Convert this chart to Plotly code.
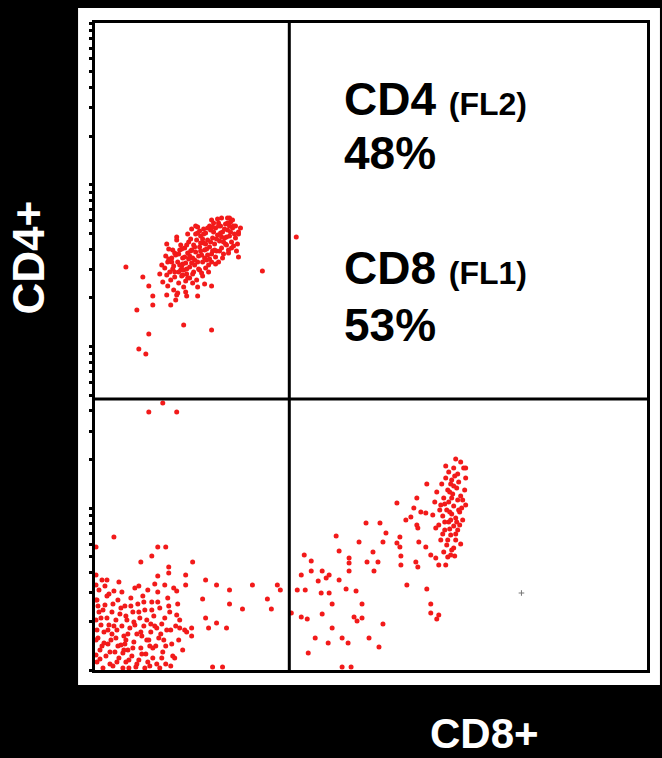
import math
import plotly.graph_objects as go

# Flow cytometry dot plot: FL1 (CD8) on x, FL2 (CD4) on y, channel units (x, y)
# Upper-left population (CD4+ CD8-)
ul_events = [
    (31, 403), (168, 399), (42, 360), (54, 336), (89, 345), (117, 340), (44, 321), (51, 316), (58, 365),
    (76, 365), (58, 374), (54, 384), (48, 393), (82, 433), (103, 443), (124, 447), (135, 452), (144, 438),
    (144, 413), (117, 384), (92, 374), (103, 374), (72, 375), (82, 375),
    (70, 402), (73, 408), (75, 398), (77, 412), (79, 404), (81, 415), (83, 408), (85, 420), (86, 400),
    (88, 412), (90, 422), (91, 407), (93, 417), (94, 428), (95, 403), (97, 420), (98, 412), (99, 425),
    (101, 418), (102, 430), (103, 408), (105, 423), (106, 434), (107, 415), (109, 427), (110, 420),
    (111, 437), (112, 410), (113, 430), (115, 423), (116, 440), (117, 416), (118, 432), (120, 426),
    (121, 442), (122, 419), (123, 435), (125, 429), (126, 444), (127, 422), (128, 438), (130, 432),
    (131, 446), (132, 425), (133, 440), (135, 434), (136, 448), (137, 428), (138, 442), (140, 436),
    (76, 390), (80, 393), (84, 387), (87, 394), (91, 389), (89, 383), (95, 392), (99, 398), (102, 390),
    (105, 400), (108, 394), (111, 402), (114, 398), (93, 436), (97, 441), (101, 444), (105, 439),
    (71, 414), (67, 405), (65, 396), (68, 388), (73, 384), (79, 380), (83, 377), (89, 400), (94, 411),
    (100, 405), (104, 414), (108, 408), (113, 415), (117, 408), (121, 413), (124, 408), (129, 416),
    (134, 420), (139, 424), (143, 426), (119, 447), (127, 452), (133, 452), (141, 444), (115, 444),
    (109, 441), (86, 425), (82, 430), (78, 420), (74, 421), (92, 396), (87, 404), (98, 387), (103, 383),
    (81, 370), (91, 378), (110, 386), (72, 426),
    (72, 395), (74, 411), (78, 401), (80, 417), (84, 398), (84, 416), (87, 421), (88, 406), (92, 401),
    (92, 425), (95, 414), (96, 431), (98, 396), (100, 423), (100, 410), (103, 437), (104, 401), (106, 419),
    (108, 431), (110, 412), (111, 426), (113, 442), (114, 405), (116, 428), (118, 419), (119, 438),
    (121, 406), (122, 431), (124, 444), (125, 419), (127, 433), (128, 412), (130, 441), (131, 426),
    (133, 447), (134, 417), (136, 438), (137, 422), (139, 444), (141, 432), (142, 419), (144, 436),
    (146, 442), (96, 419), (90, 413), (85, 405), (80, 398), (77, 408), (106, 427), (112, 421), (118, 443),
    (126, 437), (132, 433), (109, 436), (101, 436), (97, 407), (93, 392), (88, 395), (107, 397),
    (115, 411), (120, 420), (129, 428), (135, 444), (138, 450), (123, 451), (117, 450),
]

# Upper-right (double positive) events
ur_events = [(202, 433)]

# Lower-left population (double negative)
ll_events = [
    (54, 258), (82, 258), (68, 267), (19, 133), (63, 123), (71, 123), (57, 114), (46, 108), (98, 108),
    (74, 103), (74, 97), (63, 94), (91, 95), (111, 90), (12, 90), (122, 85), (158, 85), (183, 85),
    (186, 80), (135, 80), (91, 85), (82, 79), (19, 79), (108, 71), (135, 66), (148, 61), (173, 71),
    (177, 61), (111, 52), (122, 47), (132, 42), (114, 42), (85, 42), (92, 38), (97, 42), (118, 3),
    (128, 3), (1, 123),
    (2, 70), (4, 58), (6, 45), (3, 32), (5, 20), (2, 8), (8, 2), (10, 65), (12, 52), (9, 38), (13, 26),
    (11, 14), (15, 6), (17, 58), (19, 44), (16, 30), (20, 18), (18, 4), (23, 70), (25, 56), (22, 40),
    (26, 25), (24, 12), (28, 2), (30, 64), (32, 50), (29, 34), (33, 20), (31, 8), (36, 72), (38, 58),
    (35, 42), (39, 28), (37, 14), (41, 3), (43, 66), (45, 52), (42, 36), (46, 22), (44, 10), (48, 74),
    (50, 60), (49, 44), (52, 30), (51, 16), (55, 4), (57, 68), (59, 54), (56, 38), (61, 24), (58, 12),
    (63, 78), (65, 62), (67, 46), (64, 32), (68, 18), (71, 6), (73, 72), (75, 58), (72, 40), (77, 26),
    (80, 12), (83, 66), (85, 50), (79, 82), (70, 85), (53, 80), (40, 82), (27, 78), (14, 76), (1, 85),
    (1, 95), (7, 90), (4, 80), (17, 36), (23, 24), (31, 30), (39, 48), (47, 34), (55, 24), (62, 42),
    (69, 30), (7, 24), (13, 40), (21, 50), (29, 20), (34, 2), (50, 2), (65, 2), (76, 4), (90, 40),
    (97, 34), (81, 44), (1, 15), (1, 30), (1, 50), (1, 70),
    (3, 64), (6, 52), (9, 27), (5, 11), (12, 74), (14, 45), (15, 18), (18, 66), (21, 32), (22, 8),
    (26, 62), (27, 44), (28, 17), (31, 54), (33, 36), (34, 10), (36, 64), (38, 22), (40, 45), (42, 6),
    (44, 58), (46, 38), (47, 16), (49, 68), (52, 50), (53, 8), (54, 30), (57, 60), (58, 22), (60, 44),
    (62, 6), (63, 68), (66, 36), (67, 12), (70, 52), (71, 24), (74, 64), (76, 40), (78, 14), (82, 55),
    (84, 30), (88, 20), (10, 84), (24, 88), (44, 84), (60, 86), (2, 40), (8, 60), (30, 26), (56, 46),
]

# Lower-right population (CD8+ CD4-)
lr_events = [
    (362, 211), (372, 202), (333, 186), (303, 167), (323, 172),
    (352, 192), (357, 186), (361, 194), (365, 188), (354, 180), (359, 176), (363, 182), (367, 174),
    (350, 172), (355, 168), (360, 164), (364, 170), (368, 162), (353, 160), (358, 156), (362, 152),
    (366, 158), (349, 154), (355, 148), (360, 144), (364, 140), (351, 140), (357, 135), (362, 130),
    (367, 126), (353, 125), (358, 120), (347, 130), (345, 145), (347, 165), (343, 178), (371, 180),
    (372, 192), (370, 202), (367, 208), (360, 202), (355, 198), (348, 186), (341, 168), (339, 155),
    (342, 142), (350, 118), (354, 113), (361, 114), (369, 150), (372, 165), (356, 141), (351, 148),
    (363, 148), (358, 172),
    (356, 178), (360, 184), (351, 166), (365, 160), (357, 150), (349, 136), (362, 136), (354, 130),
    (366, 145), (358, 190), (352, 204), (364, 196), (346, 160), (369, 170), (356, 158), (360, 122),
    (306, 133), (306, 123), (303, 127), (325, 128), (332, 123), (337, 115), (342, 112), (345, 105),
    (352, 105), (357, 115), (312, 150), (317, 153), (323, 145), (324, 142), (320, 162), (327, 158),
    (332, 157),
    (272, 147), (286, 147), (292, 137), (242, 134), (265, 128), (289, 128), (245, 119), (279, 118),
    (210, 115), (217, 109), (255, 112), (255, 107), (273, 108), (284, 108), (307, 114), (307, 105),
    (322, 108), (324, 103), (280, 99), (255, 99), (228, 99), (217, 99), (207, 95), (224, 89), (232, 92),
    (235, 95), (245, 90), (203, 80), (211, 80), (227, 77), (235, 77), (252, 81), (262, 79), (313, 85),
    (333, 81), (238, 66), (268, 66), (337, 66), (197, 57), (207, 53), (213, 51), (228, 56), (260, 53),
    (263, 49), (268, 52), (337, 57), (345, 55), (343, 51), (289, 46), (238, 42), (221, 32), (234, 27),
    (248, 32), (254, 27), (275, 32), (285, 23), (214, 17), (248, 3), (257, 3),
]

# Stray debris event
debris_events = [(428, 77)]

X_MAX = 554
Y_MAX = 647
X_GATE = 195
Y_GATE = 271

RED = "#f21a1a"


def xy(events):
    return [e[0] for e in events], [e[1] for e in events]


fig = go.Figure()
for ev in [ul_events, ur_events, ll_events, lr_events]:
    xs, ys = xy(ev)
    fig.add_trace(go.Scatter(x=xs, y=ys, mode="markers",
                             marker=dict(size=5, color=RED, line=dict(width=0)),
                             showlegend=False, hoverinfo="skip"))
dx, dy = xy(debris_events)
fig.add_trace(go.Scatter(x=dx, y=dy, mode="markers",
                         marker=dict(size=4, color="#777777", symbol="cross-thin",
                                     line=dict(width=1, color="#777777")),
                         showlegend=False, hoverinfo="skip"))

# log-decade tick marks on the FL2 axis (4 decades)
decade = Y_MAX / 4.0
ytick_pos = []
for k in range(4):
    for d in range(1, 10):
        ytick_pos.append(decade * (k + math.log10(d)))
ytick_pos.append(Y_MAX)

# white card behind plot
fig.add_shape(type="rect", xref="paper", yref="paper",
              x0=-17 / 554, x1=567 / 554, y0=-15 / 647, y1=662 / 647,
              fillcolor="white", line=dict(width=0), layer="below")

# quadrant gates
fig.add_shape(type="line", xref="x", yref="y", x0=X_GATE, x1=X_GATE, y0=0, y1=Y_MAX,
              line=dict(color="black", width=3))
fig.add_shape(type="line", xref="x", yref="y", x0=0, x1=X_MAX, y0=Y_GATE, y1=Y_GATE,
              line=dict(color="black", width=3))

big = dict(family="Liberation Sans, Arial, sans-serif", size=46, color="black", weight="bold")
txt_x = 248 / 554
labels = [
    ("CD4 <span style='font-size:32px'>(FL2)</span>", 0.8825),
    ("48%", 0.799),
    ("CD8 <span style='font-size:32px'>(FL1)</span>", 0.621),
    ("53%", 0.533),
]
for t, yy in labels:
    fig.add_annotation(x=txt_x, y=yy, xref="paper", yref="paper", text=t, showarrow=False,
                       xanchor="left", yanchor="middle", font=big)

white = dict(family="Liberation Sans, Arial, sans-serif", size=44, color="white", weight="bold")
fig.add_annotation(x=-67 / 554, y=0.638, xref="paper", yref="paper", text="CD4+", textangle=-90,
                   showarrow=False, xanchor="center", yanchor="middle", font=white)
white_b = dict(white, size=42)
fig.add_annotation(x=391 / 554, y=-0.0974, xref="paper", yref="paper", text="CD8+",
                   showarrow=False, xanchor="center", yanchor="middle", font=white_b)

fig.update_xaxes(range=[0, X_MAX], showgrid=False, zeroline=False, showticklabels=False,
                 showline=True, linecolor="black", linewidth=3, mirror=True, ticks="")
fig.update_yaxes(range=[0, Y_MAX], showgrid=False, zeroline=False, showticklabels=False,
                 showline=True, linecolor="black", linewidth=3, mirror=True,
                 tickmode="array", tickvals=ytick_pos, ticks="outside", ticklen=3, tickwidth=3,
                 tickcolor="black")

fig.update_layout(width=662, height=758, paper_bgcolor="black", plot_bgcolor="white",
                  margin=dict(l=95, r=13, t=23, b=88), autosize=False)

fig.write_html("out.html", config={"displayModeBar": False})
